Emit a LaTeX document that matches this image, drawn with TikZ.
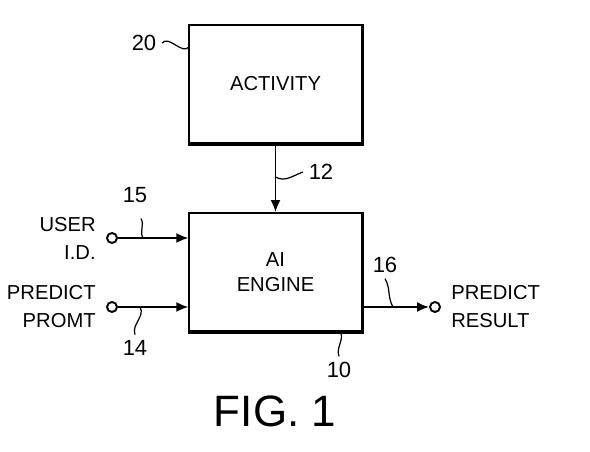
\documentclass[tikz,border=0pt]{standalone}
\usepackage{fontspec}
\setmainfont{Liberation Sans}
\usetikzlibrary{arrows.meta,positioning}

\begin{document}
\begin{tikzpicture}[scale=1]
    % styles
    \tikzset{
      block/.style    = {draw=black, line width=1pt, minimum width=3.45cm, minimum height=2.36cm,
                         align=center, font=\fontsize{11.5}{14.3}\selectfont},
      heavyedge/.style = {line width=2pt, draw=black},
      terminal/.style = {circle, draw=black, line width=1.1pt, fill=white, inner sep=0pt, minimum size=0.2cm},
      signal/.style   = {-{Latex[length=2.4mm,width=2mm]}, line width=1.1pt},
      leader/.style   = {line width=0.7pt},
      refnum/.style   = {inner sep=1.1mm, font=\fontsize{12.5}{14}\selectfont},
      caption/.style  = {inner sep=0pt, font=\fontsize{11.5}{15.9}\selectfont}
    }
    \useasboundingbox (0,0) rectangle (11.8,9.04);

    % Blocks:
    \node[block] (activity) at (5.51,7.36) {ACTIVITY};
    \node[block] (engine)   at (5.51,3.60) {AI\\ENGINE};
    \draw[heavyedge] (activity.north east) -- (activity.south east) -- (activity.south west);
    \draw[heavyedge] (engine.north east) -- (engine.south east) -- (engine.south west);

    % Terminals:
    \node[terminal] (userid) at (2.24,4.28) {};
    \node[terminal] (prompt) at (2.24,2.90) {};
    \node[terminal] (result) at (8.70,2.90) {};
    \node[caption, align=right, left=0.2cm of userid] (useridtext) {USER\\I.D.};
    \node[caption, align=right, left=0.2cm of prompt] (prompttext) {PREDICT\\PROMT};
    \node[caption, align=left, right=0.2cm of result] (resulttext) {PREDICT\\RESULT};

    % Signals:
    \draw[signal] (activity.south) -- (engine.north);
    \draw[signal] (userid) -- (userid -| engine.west);
    \draw[signal] (prompt) -- (prompt -| engine.west);
    \draw[signal] (result -| engine.east) -- (result);

    % Reference numbers:
    \node[refnum] (n20) at (2.88,8.18) {20};
    \node[refnum] (n12) at (6.42,5.60) {12};
    \node[refnum] (n15) at (2.70,5.14) {15};
    \node[refnum] (n14) at (2.70,2.08) {14};
    \node[refnum] (n16) at (7.70,3.74) {16};
    \node[refnum] (n10) at (6.78,1.64) {10};

    \coordinate (c20) at (3.78,8.10);
    \coordinate (c12) at (5.51,5.50);
    \coordinate (c15) at (2.86,4.28);
    \coordinate (c14) at (2.80,2.90);
    \coordinate (c16) at (7.86,2.90);
    \coordinate (c10) at (6.80,2.42);

    \draw[leader] (n20.east) to[out=50,in=230] (c20);
    \draw[leader] (c12) to[out=-30,in=200] (n12.west);
    \draw[leader] ([xshift=0.12cm,yshift=-0.2cm]n15.south) to[out=-60,in=120] (c15);
    \draw[leader] (c14) to[out=-60,in=110] (n14.north);
    \draw[leader] (c16) to[out=120,in=-60] (n16.south);
    \draw[leader] (c10) to[out=-60,in=110] (n10.north);

    \node[font=\fontsize{25}{30}\selectfont, inner sep=0pt] (fig) at (5.50,0.82) {FIG. 1};
  \end{tikzpicture}
\end{document}
